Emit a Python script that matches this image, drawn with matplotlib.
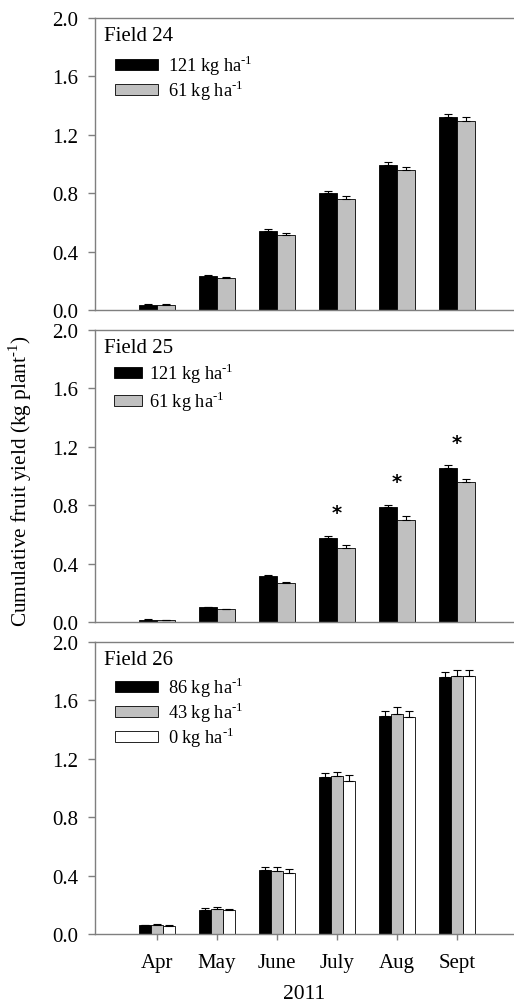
import matplotlib
matplotlib.use("Agg")
import matplotlib.pyplot as plt
import numpy as np

plt.rcParams['font.family'] = ['Liberation Serif', 'DejaVu Serif']
plt.rcParams['mathtext.fontset'] = 'custom'
plt.rcParams['mathtext.rm'] = 'Liberation Serif'

months = ["Apr", "May", "June", "July", "Aug", "Sept"]

# Field 24
f24_121 = [0.034, 0.23, 0.54, 0.80, 0.995, 1.32]
f24_121_err = [0.004, 0.011, 0.016, 0.016, 0.016, 0.023]
f24_61 = [0.035, 0.22, 0.513, 0.76, 0.956, 1.297]
f24_61_err = [0.003, 0.004, 0.011, 0.018, 0.023, 0.027]

# Field 25
f25_121 = [0.016, 0.103, 0.315, 0.575, 0.791, 1.056]
f25_121_err = [0.002, 0.003, 0.009, 0.014, 0.007, 0.016]
f25_61 = [0.015, 0.087, 0.267, 0.509, 0.70, 0.956]
f25_61_err = [0.002, 0.004, 0.009, 0.016, 0.025, 0.025]
f25_star_y = [None, None, None, 0.75, 0.965, 1.23]

# Field 26
f26_86 = [0.059, 0.167, 0.436, 1.072, 1.494, 1.759]
f26_86_err = [0.005, 0.010, 0.023, 0.034, 0.036, 0.036]
f26_43 = [0.064, 0.173, 0.431, 1.079, 1.51, 1.768]
f26_43_err = [0.005, 0.010, 0.025, 0.030, 0.048, 0.040]
f26_0 = [0.055, 0.162, 0.418, 1.045, 1.488, 1.770]
f26_0_err = [0.004, 0.006, 0.030, 0.041, 0.041, 0.036]

W, H = 514, 1003
fig = plt.figure(figsize=(W/100, H/100), dpi=100)

spine_col = '#7f7f7f'
left = 95/W
width = (W - 95)/W
tops = [19, 331, 643]
ph = 292

x = np.arange(len(months))
SUP = '$^{\\text{-}1}$'

def setup(ax, show_x):
    ax.set_xlim(-1.033, 5.95)
    ax.set_ylim(0, 2.0)
    ax.set_yticks([0, 0.4, 0.8, 1.2, 1.6, 2.0])
    ax.set_yticklabels(["0.0", "0.4", "0.8", "1.2", "1.6", "2.0"])
    ax.spines['right'].set_visible(False)
    for s in ['left', 'top', 'bottom']:
        ax.spines[s].set_color(spine_col)
        ax.spines[s].set_linewidth(1.0)
    ax.tick_params(axis='y', direction='out', length=5, width=1, color=spine_col,
                   labelsize=15, pad=7)
    if show_x:
        ax.set_xticks(x)
        ax.set_xticklabels(months)
        ax.tick_params(axis='x', direction='out', length=4, width=1, color=spine_col,
                       labelsize=15, pad=10)
    else:
        ax.set_xticks([])

def bars(ax, series, errs, colors, labels, w):
    n = len(series)
    offs = (np.arange(n) - (n - 1)/2) * w
    for s, e, c, l, o in zip(series, errs, colors, labels, offs):
        ax.bar(x + o, s, width=w, color=c, edgecolor='black', linewidth=0.6, label=l, zorder=2)
        ax.errorbar(x + o, s, yerr=[np.zeros(len(e)), e], fmt='none', ecolor='black',
                    elinewidth=0.8, capsize=2.8, capthick=0.8, zorder=3)

gray = '#c0c0c0'
leg_kw = dict(loc='upper left', frameon=False, fontsize=13.2, handleheight=0.55,
              borderaxespad=0, borderpad=0)

# Panel 1
ax1 = fig.add_axes([left, 1 - (tops[0] + ph)/H, width, ph/H])
setup(ax1, False)
bars(ax1, [f24_121, f24_61], [f24_121_err, f24_61_err], ['black', gray],
     ['121 kg ha' + SUP, '61 kg ha' + SUP], 0.3)
ax1.text(0.022, 0.94, "Field 24", transform=ax1.transAxes, fontsize=15, va='center', ha='left')
ax1.legend(bbox_to_anchor=(0.047, 0.879), handlelength=2.35, handletextpad=0.55,
           labelspacing=0.02, **leg_kw)

# Panel 2
ax2 = fig.add_axes([left, 1 - (tops[1] + ph)/H, width, ph/H])
setup(ax2, False)
bars(ax2, [f25_121, f25_61], [f25_121_err, f25_61_err], ['black', gray],
     ['121 kg ha' + SUP, '61 kg ha' + SUP], 0.3)
for xi, sy in zip(x, f25_star_y):
    if sy is not None:
        ax2.text(xi, sy, "*", ha='center', va='center', fontsize=14, fontweight='bold',
                 family='DejaVu Sans')
ax2.text(0.022, 0.94, "Field 25", transform=ax2.transAxes, fontsize=15, va='center', ha='left')
ax2.legend(bbox_to_anchor=(0.045, 0.893), handlelength=1.55, handletextpad=0.35,
           labelspacing=0.18, **leg_kw)

# Panel 3
ax3 = fig.add_axes([left, 1 - (tops[2] + ph)/H, width, ph/H])
setup(ax3, True)
bars(ax3, [f26_86, f26_43, f26_0], [f26_86_err, f26_43_err, f26_0_err],
     ['black', gray, 'white'],
     ['86 kg ha' + SUP, '43 kg ha' + SUP, '0 kg ha' + SUP], 0.2)
ax3.text(0.022, 0.94, "Field 26", transform=ax3.transAxes, fontsize=15, va='center', ha='left')
ax3.legend(bbox_to_anchor=(0.047, 0.887), handlelength=2.35, handletextpad=0.55,
           labelspacing=0.04, **leg_kw)
ax3.set_xlabel("2011", fontsize=15.5, labelpad=8)

fig.text(20/W, 1 - 481/H, "Cumulative fruit yield (kg plant" + SUP + ")", rotation=90,
         ha='center', va='center', fontsize=15.3)

fig.savefig("out.png", dpi=100)
